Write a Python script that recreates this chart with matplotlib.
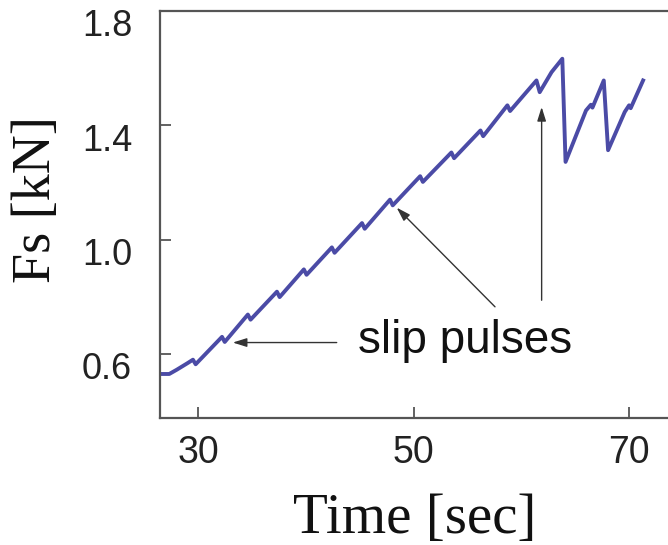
import matplotlib
matplotlib.use("Agg")
import matplotlib.pyplot as plt
import matplotlib.transforms as mtransforms

# ---- data ----
time_s = [26.45, 27.3, 28.0, 29.0, 29.5, 29.75,
          32.2, 32.45, 34.6, 34.85, 37.3, 37.55, 39.8, 40.05,
          42.4, 42.65, 45.2, 45.45, 47.8, 48.05, 50.6, 50.85,
          53.5, 53.75, 56.2, 56.45, 58.7, 58.95, 61.4, 61.7,
          62.8, 63.8, 64.1, 66.0, 66.45, 66.6, 67.65, 68.05,
          69.6, 70.0, 70.15, 71.3]
force_kN = [0.530, 0.530, 0.545, 0.568, 0.580, 0.564,
            0.660, 0.642, 0.738, 0.720, 0.818, 0.799, 0.896, 0.877,
            0.973, 0.954, 1.058, 1.038, 1.140, 1.120, 1.222, 1.202,
            1.305, 1.285, 1.382, 1.362, 1.470, 1.450, 1.557, 1.516,
            1.586, 1.633, 1.272, 1.452, 1.472, 1.462, 1.557, 1.313,
            1.447, 1.470, 1.460, 1.557]

x_ticks = [30, 50, 70]
y_ticks = [0.6, 1.0, 1.4, 1.8]
y_tick_labels = ["0.6", "1.0", "1.4", "1.8"]
x_label = "Time [sec]"
y_label = "Fs [kN]"
annotation_text = "slip pulses"
# arrows: (tail_t, tail_F, head_t, head_F)
arrow_tails = [(42.85, 0.640), (57.55, 0.765), (61.88, 0.788)]
arrow_heads = [(33.2, 0.640), (48.42, 1.112), (61.88, 1.464)]

W, H = 668, 545
fig = plt.figure(figsize=(W / 100, H / 100), dpi=100)
ax = fig.add_axes([160 / W, (H - 418) / H, 510 / W, 407 / H])

ax.plot(time_s, force_kN, color="#4b4ba6", lw=2.8, solid_joinstyle="round")

ax.set_xlim(26.44, 73.8)
ax.set_ylim(0.376, 1.8)

for s in ["left", "bottom", "top"]:
    ax.spines[s].set_color("#555555")
    ax.spines[s].set_linewidth(1.6)
ax.spines["right"].set_visible(False)

ax.set_xticks(x_ticks)
ax.set_xticklabels([str(v) for v in x_ticks], fontfamily="Liberation Sans",
                   fontsize=27, color="#222222")
ax.set_yticks(y_ticks)
ax.set_yticklabels(y_tick_labels, fontfamily="Liberation Sans",
                   fontsize=26, color="#222222")
ax.tick_params(axis="both", direction="in", length=8, width=1.3,
               color="#555555", top=False, right=False)
ax.tick_params(axis="x", pad=12)
ax.tick_params(axis="y", pad=20)

off = mtransforms.ScaledTranslation(0, -12 / 100, fig.dpi_scale_trans)
for lab in ax.get_yticklabels():
    lab.set_transform(lab.get_transform() + off)

ax.set_xlabel(x_label, fontfamily="Liberation Serif", fontsize=41, color="#111111")
ax.xaxis.set_label_coords(0.5, -0.184)
ax.set_ylabel(y_label, fontfamily="Liberation Serif", fontsize=39, color="#111111")
ax.yaxis.set_label_coords(-98 / 510, 0.536)

ax.text(54.76, 0.603, annotation_text, ha="center", va="baseline",
        fontfamily="Liberation Sans", fontsize=33, color="#111111")

for (tt, tf), (ht, hf) in zip(arrow_tails, arrow_heads):
    ax.annotate("", xy=(ht, hf), xytext=(tt, tf),
                arrowprops=dict(arrowstyle="-|>,head_length=0.7,head_width=0.22",
                                color="#333333", lw=1.0, mutation_scale=12,
                                shrinkA=0, shrinkB=0))

fig.savefig("out.png", dpi=100)
